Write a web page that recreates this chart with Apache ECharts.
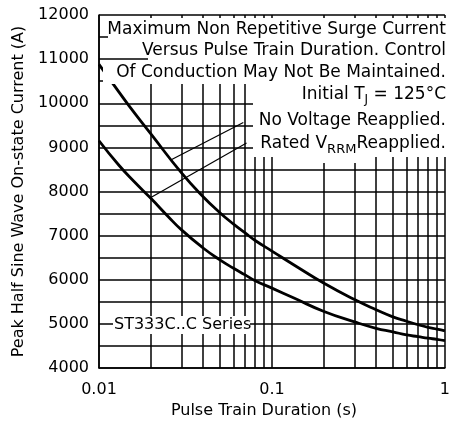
<!DOCTYPE html>
<html>
<head>
<meta charset="utf-8">
<script src="https://cdn.jsdelivr.net/npm/echarts@6/dist/echarts.min.js"></script>
<style>
html,body{margin:0;padding:0;background:#fff;}
#c{width:453px;height:429px;}
</style>
</head>
<body>
<div id="c"></div>
<script>
// ---- data ----
const xTickLabels = [0.01, 0.1, 1];
const minorDurations = [0.02,0.03,0.04,0.05,0.06,0.07,0.08,0.09,0.2,0.3,0.4,0.5,0.6,0.7,0.8,0.9];
const noVoltageDuration = [0.01,0.012,0.015,0.02,0.03,0.04,0.05,0.06,0.07,0.08,0.1,0.14,0.2,0.3,0.4,0.5,0.6,0.7,0.8,0.9,1];
const noVoltageCurrent  = [10880,10450,9930,9300,8420,7880,7520,7260,7060,6890,6650,6290,5920,5550,5320,5160,5060,4980,4920,4880,4840];
const ratedDuration = [0.01,0.013,0.016,0.02,0.025,0.03,0.04,0.05,0.06,0.07,0.08,0.1,0.135,0.2,0.3,0.4,0.5,0.6,0.7,0.8,0.9,1];
const ratedCurrent  = [9150,8600,8220,7840,7440,7130,6720,6450,6260,6110,5980,5810,5580,5280,5045,4900,4820,4750,4710,4675,4650,4620];
const noVoltageLeader = [[0.026, 8714], [0.0683, 9564]];
const ratedLeader = [[0.0196, 7846], [0.0713, 9100]];

const F = 'DejaVu Sans';
const zip = (a, b) => a.map((v, i) => [v, b[i]]);
const chart = echarts.init(document.getElementById('c'), null, {renderer: 'canvas'});

const rect = (x, y, w, h) => ({type: 'rect', shape: {x, y, width: w, height: h}, style: {fill: '#fff'}, z: 100, silent: true});
const txt = (x, y, text, extra) => ({type: 'text', x, y, z: 101, silent: true,
  style: Object.assign({text, fontSize: 17, fontFamily: F, fill: '#000', align: 'right', verticalAlign: 'middle'}, extra || {})});

const option = {
  animation: false,
  backgroundColor: '#fff',
  grid: {left: 99, right: 4, top: 15, bottom: 61},
  xAxis: {
    type: 'log', logBase: 10, min: 0.01, max: 1,
    axisLine: {lineStyle: {color: '#000', width: 1.5}},
    axisTick: {show: false},
    splitLine: {show: true, lineStyle: {color: '#000', width: 1.5}},
    axisLabel: {color: '#000', fontSize: 16, fontFamily: F, margin: 14,
      formatter: v => String(parseFloat(Number(v).toPrecision(6)))},
    name: 'Pulse Train Duration (s)', nameLocation: 'middle', nameGap: 32,
    nameTextStyle: {color: '#000', fontSize: 16, fontFamily: F, padding: [0, 16, 0, 0]}
  },
  yAxis: {
    type: 'value', min: 4000, max: 12000, interval: 500,
    axisLine: {show: true, lineStyle: {color: '#000', width: 1.5}},
    axisTick: {show: false},
    splitLine: {show: true, lineStyle: {color: '#000', width: 1.5}},
    axisLabel: {color: '#000', fontSize: 16, fontFamily: F, margin: 10,
      formatter: v => (v % 1000 === 0 ? String(v) : '')},
    name: 'Peak Half Sine Wave On-state Current (A)', nameLocation: 'middle', nameGap: 63,
    nameTextStyle: {color: '#000', fontSize: 16, fontFamily: F}
  },
  series: [
    {
      type: 'line', data: zip(noVoltageDuration, noVoltageCurrent), smooth: 0.5,
      showSymbol: false, lineStyle: {color: '#000', width: 2.8}, z: 5,
      markLine: {
        silent: true, symbol: ['none', 'none'], label: {show: false},
        lineStyle: {color: '#000', width: 1.5, type: 'solid'},
        data: minorDurations.map(v => ({xAxis: v}))
      }
    },
    {
      type: 'line', data: zip(ratedDuration, ratedCurrent), smooth: 0.5,
      showSymbol: false, lineStyle: {color: '#000', width: 2.8}, z: 5,
      markLine: {
        silent: true, symbol: ['none', 'none'], label: {show: false},
        lineStyle: {color: '#000', width: 1.2, type: 'solid'},
        data: [
          [{coord: noVoltageLeader[0]}, {coord: noVoltageLeader[1]}],
          [{coord: ratedLeader[0]}, {coord: ratedLeader[1]}]
        ]
      }
    }
  ],
  graphic: [
    rect(108, 18, 339, 21),
    rect(148, 39, 299, 22),
    rect(103, 61, 344, 23),
    rect(253, 84, 194, 73),
    rect(318, 157, 38, 6),
    rect(113, 316, 137, 18),
    txt(446, 30, 'Maximum Non Repetitive Surge Current'),
    txt(446, 51, 'Versus Pulse Train Duration. Control'),
    txt(446, 73, 'Of Conduction May Not Be Maintained.'),
    txt(446, 95, 'Initial T{s|J} = 125°C', {lineHeight: 22, rich: {s: {fontSize: 12, fontFamily: F, verticalAlign: 'bottom', fill: '#000'}}}),
    txt(446, 121, 'No Voltage Reapplied.'),
    txt(446, 144, 'Rated V{s|RRM}Reapplied.', {lineHeight: 24, rich: {s: {fontSize: 13, fontFamily: F, verticalAlign: 'bottom', fill: '#000'}}}),
    txt(114, 325, 'ST333C..C Series', {fontSize: 16, align: 'left'})
  ]
};
chart.setOption(option);
</script>
</body>
</html>
